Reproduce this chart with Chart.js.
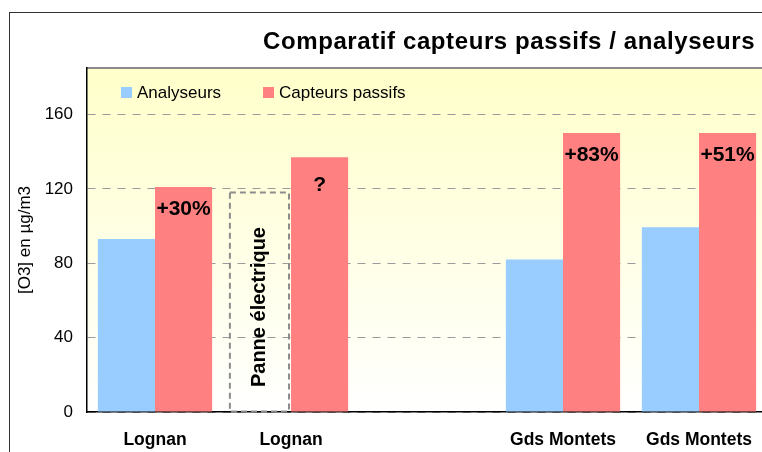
<!DOCTYPE html>
<html>
<head>
<meta charset="utf-8">
<script src="https://cdn.jsdelivr.net/npm/chart.js@4"></script>
<style>
  html, body { margin: 0; padding: 0; background: #fff; }
  #wrap { width: 762px; height: 452px; overflow: hidden; position: relative; }
  canvas { display: block; }
</style>
</head>
<body>
<div id="wrap"><canvas id="c" width="800" height="452"></canvas></div>
<script>
// ---- data ----
const categories = ['Lognan', 'Lognan', '', 'Gds Montets', 'Gds Montets'];
const analyseurs = [93, null, null, 82, 99.3];
const capteursPassifs = [121, 137, null, 150, 150];
const ecartLabels = ['+30%', '?', '', '+83%', '+51%'];
const panneHeight = [null, 118, null, null, null]; // outage placeholder box (analyser slot)
const panneText = 'Panne électrique';
const yTicks = [0, 40, 80, 120, 160];
const yMax = 185;
const titleText = 'Comparatif capteurs passifs / analyseurs';
const yTitle = '[O3] en µg/m3';

const BLUE = '#99CCFF';
const RED = '#FF8080';
const FONT = "'Liberation Sans', Arial, sans-serif";

const blueData = analyseurs.map((v, i) => v !== null ? v : panneHeight[i]);

const decorPlugin = {
  id: 'decor',
  beforeDraw(chart) {
    const { ctx, chartArea: a } = chart;
    ctx.save();
    // outer frame
    ctx.strokeStyle = '#333';
    ctx.lineWidth = 1;
    ctx.strokeRect(9.5, 12.5, 1200, 1200);
    // plot background gradient
    const g = ctx.createLinearGradient(0, a.top, 0, a.bottom);
    g.addColorStop(0, '#FFFFCA');
    g.addColorStop(1, '#FFFFFF');
    ctx.fillStyle = g;
    ctx.fillRect(a.left, a.top, a.right - a.left, a.bottom - a.top);
    // top border of plot area
    ctx.strokeStyle = '#8a8a8a';
    ctx.lineWidth = 2;
    ctx.beginPath();
    ctx.moveTo(a.left, a.top);
    ctx.lineTo(a.right + 40, a.top);
    ctx.stroke();
    // title
    ctx.fillStyle = '#000';
    ctx.font = 'bold 24px ' + FONT;
    try { ctx.letterSpacing = '0.6px'; } catch (e) {}
    ctx.textAlign = 'left';
    ctx.textBaseline = 'alphabetic';
    ctx.fillText(titleText, 263, 48.5);
    try { ctx.letterSpacing = '0px'; } catch (e) {}
    ctx.restore();
  },
  afterDatasetsDraw(chart) {
    const { ctx } = chart;
    const metaB = chart.getDatasetMeta(0);
    const metaR = chart.getDatasetMeta(1);
    ctx.save();
    // outage box
    panneHeight.forEach((v, i) => {
      if (v === null) return;
      const el = metaB.data[i];
      const x0 = el.x - el.width / 2 - 4, x1 = el.x + el.width / 2 - 2;
      const y0 = el.y, y1 = el.base;
      ctx.strokeStyle = '#8c8c8c';
      ctx.lineWidth = 2;
      ctx.setLineDash([6, 4]);
      ctx.strokeRect(x0, y0, x1 - x0, y1 - y0);
      ctx.setLineDash([]);
      ctx.fillStyle = '#000';
      ctx.font = 'bold 20px ' + FONT;
      ctx.textAlign = 'center';
      ctx.textBaseline = 'middle';
      ctx.translate((x0 + x1) / 2, (y0 + y1) / 2 + 5);
      ctx.rotate(-Math.PI / 2);
      ctx.fillText(panneText, 0, 0);
      ctx.setTransform(1, 0, 0, 1, 0, 0);
    });
    // percentage labels
    ctx.fillStyle = '#000';
    ctx.font = 'bold 21px ' + FONT;
    ctx.textAlign = 'center';
    ctx.textBaseline = 'middle';
    ecartLabels.forEach((t, i) => {
      if (!t) return;
      const el = metaR.data[i];
      const off = t === '?' ? 28 : 22;
      ctx.fillText(t, el.x, el.y + off);
    });
    // legend
    ctx.font = '17px ' + FONT;
    ctx.textAlign = 'left';
    ctx.textBaseline = 'alphabetic';
    const items = [
      { x: 121, ds: chart.data.datasets[0] },
      { x: 263, ds: chart.data.datasets[1] }
    ];
    items.forEach(it => {
      ctx.fillStyle = it.ds.legendColor;
      ctx.fillRect(it.x, 87, 11, 11);
      ctx.fillStyle = '#000';
      ctx.fillText(it.ds.label, it.x + 16, 97.5);
    });
    ctx.restore();
  }
};

new Chart(document.getElementById('c'), {
  type: 'bar',
  data: {
    labels: categories,
    datasets: [
      {
        label: 'Analyseurs',
        data: blueData,
        legendColor: BLUE,
        backgroundColor: ctx => (ctx.dataIndex !== undefined && panneHeight[ctx.dataIndex] !== null) ? 'rgba(0,0,0,0)' : BLUE,
        borderWidth: 0,
        categoryPercentage: 0.84,
        barPercentage: 1.0
      },
      {
        label: 'Capteurs passifs',
        data: capteursPassifs,
        legendColor: RED,
        backgroundColor: RED,
        borderWidth: 0,
        categoryPercentage: 0.84,
        barPercentage: 1.0
      }
    ]
  },
  options: {
    responsive: false,
    animation: false,
    layout: { padding: { left: 0, right: 33, top: 68, bottom: 0 } },
    plugins: {
      legend: { display: false },
      title: { display: false },
      tooltip: { enabled: false }
    },
    scales: {
      x: {
        grid: { display: false },
        border: { display: true, color: '#000', width: 1.5 },
        ticks: {
          color: '#000',
          font: { family: FONT, size: 17.5, weight: 'bold' },
          padding: 10,
          maxRotation: 0,
          autoSkip: false
        },
        afterFit(scale) { scale.height = 40; }
      },
      y: {
        min: 0,
        max: yMax,
        afterBuildTicks(scale) { scale.ticks = yTicks.map(v => ({ value: v })); },
        grid: { color: '#9a9a9a', lineWidth: 1, drawTicks: false },
        border: { display: true, color: '#000', width: 1.5, dash: [8, 7] },
        ticks: {
          color: '#000',
          font: { family: FONT, size: 17 },
          padding: 14
        },
        title: {
          display: true,
          text: yTitle,
          color: '#000',
          font: { family: FONT, size: 17 },
          padding: { top: 15, bottom: 0 }
        },
        afterFit(scale) { scale.width = 87; }
      }
    }
  },
  plugins: [decorPlugin]
});
</script>
</body>
</html>
